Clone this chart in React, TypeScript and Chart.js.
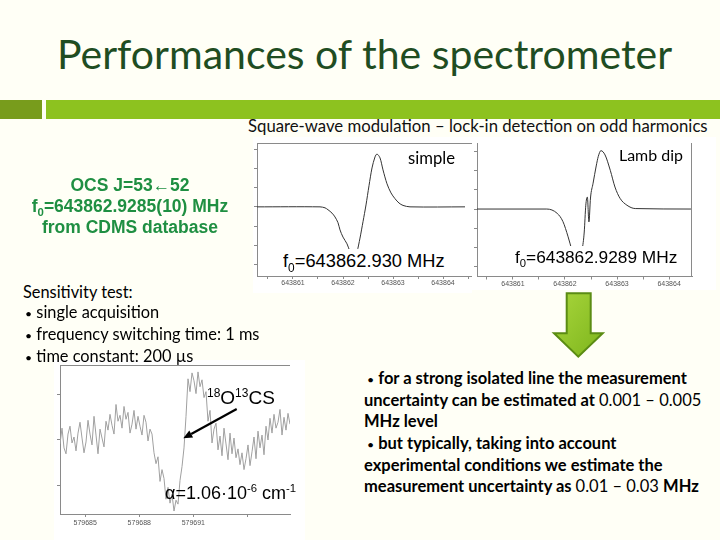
import React, { useEffect, useRef } from 'react';
import { Chart, registerables } from 'chart.js';

Chart.register(...registerables);

// ---------- data ----------
// "simple" square-wave / odd-harmonic spectrum (frequency MHz, signal a.u.)
const SIMPLE_FREQ = [643860.28, 643861.54, 643861.64, 643861.70, 643861.78, 643861.84, 643861.90, 643861.94, 643862.00, 643862.08, 643862.14, 643862.21, 643862.28, 643862.34, 643862.40, 643862.46, 643862.52, 643862.58, 643862.64, 643862.68, 643862.74, 643862.80, 643862.88, 643862.96, 643863.04, 643863.12, 643863.20, 643863.34, 643864.44];
const SIMPLE_SIGNAL = [0, 0, -0.02, -0.06, -0.13, -0.21, -0.33, -0.48, -0.63, -0.77, -0.94, -1.15, -0.94, -0.65, -0.31, 0.04, 0.44, 0.81, 1.04, 1.10, 1.02, 0.77, 0.48, 0.29, 0.17, 0.08, 0.03, 0, 0];

// "Lamb dip" spectrum
const LAMB_FREQ = [643860.31, 643861.65, 643861.85, 643861.96, 643862.06, 643862.13, 643862.21, 643862.29, 643862.33, 643862.37, 643862.40, 643862.43, 643862.46, 643862.49, 643862.54, 643862.60, 643862.64, 643862.69, 643862.77, 643862.87, 643862.96, 643863.06, 643863.19, 643863.35, 643864.42];
const LAMB_SIGNAL = [0, 0, -0.09, -0.26, -0.58, -0.85, -1.15, -1.05, -0.85, -0.48, 0.08, 0.25, -0.27, 0.23, 0.54, 0.90, 1.10, 1.22, 1.13, 0.81, 0.46, 0.22, 0.08, 0.01, 0];

const FREQ_TICKS = [643860.5, 643861, 643861.5, 643862, 643862.5, 643863, 643863.5, 643864, 643864.5];
const FREQ_TICK_LABELS = ['', '643861', '', '643862', '', '643863', '', '643864', ''];
const SIGNAL_TICKS = [-1.2, -0.8, -0.4, 0, 0.4, 0.8, 1.2];

// 18O13CS sensitivity test (single acquisition), sampled every NOISE_STEP MHz
const NOISE_START = 579683.6;
const NOISE_STEP = 0.111;
const NOISE_SIGNAL = [
  -0.1, 0.22, -0.18, -0.3, 0.1, 0.26, -0.08, 0.04,
  -0.24, 0.12, 0.34, 0.02, -0.28, -0.06, 0.38, 0.1,
  -0.12, 0.46, 0.08, -0.3, 0.2, 0.02, -0.16, 0.36,
  0.18, 0.5, 0.28, 0.1, 0.7, 0.36, 0.48, 0.22,
  0.66, 0.4, 0.54, 0.12, 0.3, 0.58, 0.2, 0.46,
  0.26, 0.08, 0.48, 0.34, -0.04, 0.2, 0.1, -0.28,
  -0.5, -0.36, -0.86, -0.62, -0.8, -1.22, -0.98, -1.3,
  -1.12, -1.46, -1.24, -1.32, -0.84, -0.56, -0.18, 0.46,
  1.22, 0.96, 1.34, 1.18, 0.92, 1.36, 1.06, 1.2,
  0.84, 0.96, 0.36, 0.58, -0.08, 0.2, 0.32, -0.22,
  0.06, -0.34, 0.22, -0.1, -0.42, 0.12, -0.3, 0.02,
  -0.38, -0.2, -0.52, -0.28, -0.62, -0.4, -0.12, -0.54,
  -0.26, 0.04, -0.4, 0.16, -0.18, 0.08, -0.32, 0.26,
  -0.02, 0.42, 0.12, 0.5, 0.22, 0.34, 0.6, 0.08,
  0.44, 0.18, 0.52, 0.3,
];
const NOISE_TICKS = [579685, 579688, 579691, 579694];
const NOISE_TICK_LABELS = ['579685', '579688', '579691', ''];
const NOISE_Y_TICKS = [-0.94, 0, 0.9];

// ---------- fonts / text helpers ----------
const LATO = 'Lato, "Open Sans", sans-serif';
const ARIAL = '"Liberation Sans", Arial, sans-serif';
const LATO_M = { asc: 0.987, desc: 0.213 };
const ARIAL_M = { asc: 0.905, desc: 0.212 };

let mctx: CanvasRenderingContext2D | null = null;
function textWidth(t: string, font: string): number {
  if (!mctx) mctx = document.createElement('canvas').getContext('2d');
  mctx!.font = font;
  return mctx!.measureText(t).width;
}

type Seg = { t: string; w?: number; s?: number };
function natWidth(segs: Seg[], size: number, weight: number, family: string) {
  return segs.reduce((a, g) => a + textWidth(g.t, `${g.w ?? weight} ${size * (g.s ?? 1)}px ${family}`), 0);
}
function fitSize(segs: Seg[], width: number, weight = 400, family = LATO) {
  return (20 * width) / natWidth(segs, 20, weight, family);
}

function Line(props: any) {
  const { x, base, size, family, m, color = '#000', weight = 400, align = 'left', boxW = 0, bg, children } = props;
  const lh = Math.ceil(size * 1.25);
  const top = base - (lh - (m.asc + m.desc) * size) / 2 - m.asc * size;
  const style: any = {
    position: 'absolute', top, fontFamily: family, fontSize: size, lineHeight: lh + 'px',
    color, fontWeight: weight, whiteSpace: 'pre',
  };
  if (align === 'center') { style.left = x - boxW / 2; style.width = boxW; style.textAlign = 'center'; }
  else style.left = x;
  if (bg) style.background = bg;
  return <div style={style}>{children}</div>;
}

function FitLine(props: any) {
  const { segs, x, base, width, color = '#000', weight = 400, family = LATO } = props;
  const size = props.size ?? fitSize(segs, width, weight, family);
  return (
    <Line x={x} base={base} size={size} family={family} m={LATO_M} color={color} weight={weight}>
      {(segs as Seg[]).map((g, i) => (
        <span key={i} style={{ fontWeight: g.w ?? weight, fontSize: g.s ? g.s + 'em' : undefined }}>{g.t}</span>
      ))}
    </Line>
  );
}

const Sub = ({ c, s = 0.65, dy = 0.35 }: any) => <span style={{ fontSize: s + 'em', position: 'relative', top: dy + 'em' }}>{c}</span>;
const Sup = ({ c, s = 0.63, dy = -0.6 }: any) => <span style={{ fontSize: s + 'em', position: 'relative', top: dy + 'em' }}>{c}</span>;

// ---------- chart ----------
const framePlugin = {
  id: 'frame',
  afterDraw(chart: any, _args: any, opts: any) {
    const { ctx, chartArea: a } = chart;
    ctx.save();
    ctx.strokeStyle = '#8a8a8a';
    ctx.lineWidth = 1;
    ctx.beginPath();
    if (opts.top) { ctx.moveTo(a.left, a.top + 0.5); ctx.lineTo(a.right, a.top + 0.5); }
    if (opts.right) { ctx.moveTo(a.right - 0.5, a.top); ctx.lineTo(a.right - 0.5, a.bottom); }
    ctx.stroke();
    ctx.restore();
  },
};

function SpectrumChart(p: any) {
  const ref = useRef<HTMLCanvasElement>(null);
  useEffect(() => {
    const pts = p.xs.map((x: number, i: number) => ({ x, y: p.ys[i] }));
    const axisGrid = { drawOnChartArea: false, drawTicks: true, tickLength: 3, color: '#8a8a8a' };
    const chart = new Chart(ref.current!, {
      type: 'line',
      data: {
        datasets: [{
          data: pts, borderColor: p.lineColor, borderWidth: 1, pointRadius: 0,
          tension: p.tension, cubicInterpolationMode: p.mono ? 'monotone' : 'default', fill: false,
        }],
      },
      options: {
        animation: false, responsive: false, maintainAspectRatio: false, events: [],
        layout: { padding: p.padding },
        plugins: { legend: { display: false }, tooltip: { enabled: false }, frame: p.frame } as any,
        scales: {
          x: {
            type: 'linear', min: p.xMin, max: p.xMax,
            afterBuildTicks: (s: any) => { s.ticks = p.xTicks.map((v: number) => ({ value: v })); },
            ticks: {
              autoSkip: false, maxRotation: 0, padding: p.tickPad, color: '#555',
              font: { family: ARIAL, size: 7 },
              callback: (v: any) => {
                const i = p.xTicks.findIndex((t: number) => Math.abs(t - Number(v)) < 1e-6);
                return i >= 0 ? p.xLabels[i] : '';
              },
            },
            grid: axisGrid, border: { color: '#8a8a8a' },
          },
          y: {
            type: 'linear', min: p.yMin, max: p.yMax,
            afterBuildTicks: (s: any) => { s.ticks = p.yTicks.map((v: number) => ({ value: v })); },
            ticks: { display: false },
            grid: axisGrid, border: { color: '#8a8a8a' },
          },
        },
      } as any,
      plugins: [framePlugin],
    });
    return () => chart.destroy();
  }, []);
  const b = p.box;
  return (
    <div style={{ position: 'absolute', left: b.left, top: b.top, width: b.width, height: b.height, background: '#fff' }}>
      <canvas ref={ref} width={b.width} height={b.height} style={{ width: b.width, height: b.height, display: 'block' }} />
    </div>
  );
}

const NOISE_FREQ = NOISE_SIGNAL.map((_, i) => NOISE_START + i * NOISE_STEP);

const BUL: Seg = { t: '•', s: 0.75, w: 400 };
const LEFT_LINES: Seg[][] = [
  [{ t: 'Sensitivity test:' }],
  [BUL, { t: ' single acquisition' }],
  [BUL, { t: ' frequency switching time: 1 ms' }],
  [BUL, { t: ' time constant: 200 µs' }],
];
const RIGHT_LINES: Seg[][] = [
  [BUL, { t: ' for a strong isolated line the measurement' }],
  [{ t: 'uncertainty can be estimated at ' }, { t: '0.001 – 0.005', w: 400 }],
  [{ t: 'MHz level' }],
  [BUL, { t: ' but typically, taking into account' }],
  [{ t: 'experimental conditions we estimate the' }],
  [{ t: 'measurement uncertainty as ' }, { t: '0.01 – 0.03 ', w: 400 }, { t: 'MHz' }],
];

export default function App() {
  const leftSize = fitSize(LEFT_LINES[2], 235, 400);
  const rightSize = fitSize(RIGHT_LINES[1], 338, 700);
  const leftX = [23, 25, 25, 25];
  const leftBase = [298.3, 318.3, 340, 361.7];
  const rightX = [367, 364, 364, 367, 364, 364];
  const rightBase = [385, 406.7, 428.3, 450, 471.7, 493.3];
  return (
    <div style={{ position: 'absolute', left: 0, top: 0, width: 720, height: 540, background: '#fffff6', overflow: 'hidden' }}>
      {/* title */}
      <FitLine segs={[{ t: 'Performances of the spectrometer' }]} x={57} base={70} width={616} color="#1f4d22" />
      <div style={{ position: 'absolute', left: 0, top: 100, width: 42, height: 19, background: '#789c1c' }} />
      <div style={{ position: 'absolute', left: 46, top: 100, width: 674, height: 19, background: '#8dc21f' }} />

      <FitLine segs={[{ t: 'Square-wave modulation – lock-in detection on odd harmonics' }]} x={248} base={132.3} width={460} color="#111" />

      {/* spectra */}
      <SpectrumChart box={{ left: 253, top: 137, width: 219, height: 156 }}
        xs={SIMPLE_FREQ} ys={SIMPLE_SIGNAL} xMin={643860.28} xMax={643864.58} yMin={-1.44} yMax={1.33}
        xTicks={FREQ_TICKS} xLabels={FREQ_TICK_LABELS} yTicks={SIGNAL_TICKS}
        padding={{ top: 6, left: 1, right: 0, bottom: 5.6 }} tickPad={0} lineColor="#333" tension={0.3} mono={false}
        frame={{ top: true }} />
      <SpectrumChart box={{ left: 472, top: 137, width: 244, height: 153 }}
        xs={LAMB_FREQ} ys={LAMB_SIGNAL} xMin={643860.31} xMax={643864.44} yMin={-1.41} yMax={1.38}
        xTicks={FREQ_TICKS.slice(0, 8)} xLabels={FREQ_TICK_LABELS.slice(0, 8)} yTicks={SIGNAL_TICKS}
        padding={{ top: 6, left: 2, right: 24, bottom: 2.1 }} tickPad={0} lineColor="#333" tension={0.2} mono={true}
        frame={{ right: true }} />
      <SpectrumChart box={{ left: 54, top: 360, width: 251, height: 180 }}
        xs={NOISE_FREQ} ys={NOISE_SIGNAL} xMin={NOISE_START} xMax={NOISE_FREQ[NOISE_FREQ.length - 1]} yMin={-1.52} yMax={1.5}
        xTicks={NOISE_TICKS} xLabels={NOISE_TICK_LABELS} yTicks={NOISE_Y_TICKS}
        padding={{ top: 5, left: 3, right: 15, bottom: 10.6 }} tickPad={2} lineColor="#a0a0a0" tension={0} mono={false}
        frame={{ top: true }} />

      {/* chart labels */}
      <FitLine segs={[{ t: 'simple' }]} x={408} base={165} width={47} />
      <FitLine segs={[{ t: 'Lamb dip' }]} x={619} base={160.7} width={64} />
      <Line x={283} base={267.3} size={18.3} family={ARIAL} m={ARIAL_M} bg="#fff">f<Sub c="0" />=643862.930 MHz</Line>
      <Line x={515} base={263.3} size={17.3} family={ARIAL} m={ARIAL_M} bg="#fff">f<Sub c="0" />=643862.9289 MHz</Line>

      {/* OCS */}
      <Line x={130} base={190.7} size={17.5} family={ARIAL} m={ARIAL_M} weight={700} color="#1f8f42" align="center" boxW={260}>OCS J=53←52</Line>
      <Line x={130} base={212.3} size={17.5} family={ARIAL} m={ARIAL_M} weight={700} color="#1f8f42" align="center" boxW={260}>f<Sub c="0" />=643862.9285(10) MHz</Line>
      <Line x={130} base={233.3} size={17.5} family={ARIAL} m={ARIAL_M} weight={700} color="#1f8f42" align="center" boxW={260}>from CDMS database</Line>

      {/* sensitivity */}
      {LEFT_LINES.map((segs, i) => (
        <FitLine key={'l' + i} segs={segs} x={leftX[i]} base={leftBase[i]} size={leftSize} />
      ))}

      {/* right text */}
      {RIGHT_LINES.map((segs, i) => (
        <FitLine key={'r' + i} segs={segs} x={rightX[i]} base={rightBase[i]} size={rightSize} weight={700} />
      ))}

      {/* noisy spectrum annotations */}
      <Line x={207} base={405} size={19} family={ARIAL} m={ARIAL_M}><Sup c="18" />O<Sup c="13" />CS</Line>
      <Line x={165} base={500} size={18} family={ARIAL} m={ARIAL_M}>α=1.06·10<Sup c="-6" /> cm<Sup c="-1" /></Line>

      <svg width={720} height={540} style={{ position: 'absolute', left: 0, top: 0, pointerEvents: 'none' }}>
        <defs>
          <linearGradient id="garrow" x1="0" y1="0" x2="1" y2="1">
            <stop offset="0" stopColor="#a9d63c" />
            <stop offset="1" stopColor="#7db51c" />
          </linearGradient>
        </defs>
        <polygon points="566.7,293.3 590.7,293.3 590.7,333.3 602.7,333.3 578.3,356.7 554,333.3 566.7,333.3"
          fill="url(#garrow)" stroke="#5b8c13" strokeWidth={2} />
        <line x1={236.7} y1={409} x2={191.2} y2={434} stroke="#000" strokeWidth={2.2} />
        <polygon points="183.3,438.3 193.1,437.5 189.3,430.5" fill="#000" />
      </svg>
    </div>
  );
}
